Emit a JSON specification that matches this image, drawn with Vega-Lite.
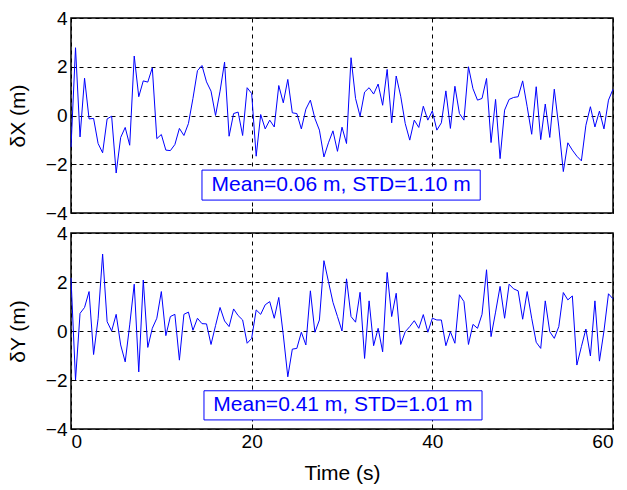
{
  "$schema": "https://vega.github.io/schema/vega-lite/v6.json",
  "padding": {"left": 6, "top": 8, "right": 2, "bottom": 5},
  "background": "white",
  "config": {
    "font": "Liberation Sans",
    "view": {"stroke": "black", "strokeWidth": 1.5},
    "axis": {
      "labelFont": "Liberation Sans", "labelFontSize": 19, "labelColor": "black",
      "titleFont": "Liberation Sans", "titleFontSize": 21, "titleFontWeight": "normal", "titleColor": "black",
      "domain": false, "grid": true, "gridColor": "black", "gridDash": [4, 4], "gridOpacity": 1, "gridWidth": 1,
      "tickColor": "black", "tickSize": -5, "tickWidth": 1
    }
  },
  "datasets": {
    "dx": [
      {"t":0,"v":-1.3},{"t":0.5,"v":2.78},{"t":1,"v":-0.88},{"t":1.5,"v":1.53},{"t":2,"v":-0.14},{"t":2.5,"v":-0.12},{"t":3,"v":-1.15},{"t":3.5,"v":-1.53},{"t":4,"v":-0.14},{"t":4.5,"v":-0.03},
      {"t":5,"v":-2.36},{"t":5.5,"v":-0.9},{"t":6,"v":-0.49},{"t":6.5,"v":-1.22},{"t":7,"v":2.44},{"t":7.5,"v":0.77},{"t":8,"v":1.42},{"t":8.5,"v":1.37},{"t":9,"v":1.96},{"t":9.5,"v":-0.95},
      {"t":10,"v":-0.78},{"t":10.5,"v":-1.42},{"t":11,"v":-1.44},{"t":11.5,"v":-1.19},{"t":12,"v":-0.53},{"t":12.5,"v":-0.82},{"t":13,"v":-0.33},{"t":13.5,"v":0.7},{"t":14,"v":1.84},{"t":14.5,"v":2.05},
      {"t":15,"v":1.38},{"t":15.5,"v":1.0},{"t":16,"v":0.0},{"t":16.5,"v":1.0},{"t":17,"v":2.19},{"t":17.5,"v":-0.85},{"t":18,"v":0.08},{"t":18.5,"v":0.14},{"t":19,"v":-0.82},{"t":19.5,"v":1.14},
      {"t":20,"v":0.9},{"t":20.5,"v":-1.67},{"t":21,"v":0.04},{"t":21.5,"v":-0.55},{"t":22,"v":-0.19},{"t":22.5,"v":-0.47},{"t":23,"v":1.23},{"t":23.5,"v":0.52},{"t":24,"v":1.48},{"t":24.5,"v":0.11},
      {"t":25,"v":0.08},{"t":25.5,"v":-0.55},{"t":26,"v":0.26},{"t":26.5,"v":0.63},{"t":27,"v":-0.12},{"t":27.5,"v":-0.6},{"t":28,"v":-1.7},{"t":28.5,"v":-1.12},{"t":29,"v":-0.63},{"t":29.5,"v":-1.47},
      {"t":30,"v":-0.48},{"t":30.5,"v":-1.15},{"t":31,"v":2.37},{"t":31.5,"v":0.7},{"t":32,"v":-0.03},{"t":32.5,"v":0.96},{"t":33,"v":1.14},{"t":33.5,"v":0.88},{"t":34,"v":1.29},{"t":34.5,"v":0.42},
      {"t":35,"v":1.89},{"t":35.5,"v":-0.3},{"t":36,"v":1.62},{"t":36.5,"v":0.79},{"t":37,"v":-0.33},{"t":37.5,"v":-1.01},{"t":38,"v":-0.19},{"t":38.5,"v":-0.49},{"t":39,"v":0.38},{"t":39.5,"v":-0.19},
      {"t":40,"v":0.19},{"t":40.5,"v":-0.6},{"t":41,"v":-0.3},{"t":41.5,"v":1.01},{"t":42,"v":-0.53},{"t":42.5,"v":1.2},{"t":43,"v":0.08},{"t":43.5,"v":-0.19},{"t":44,"v":2.0},{"t":44.5,"v":1.1},
      {"t":45,"v":0.63},{"t":45.5,"v":0.7},{"t":46,"v":1.52},{"t":46.5,"v":-1.11},{"t":47,"v":0.66},{"t":47.5,"v":-1.77},{"t":48,"v":0.22},{"t":48.5,"v":0.66},{"t":49,"v":0.74},{"t":49.5,"v":0.77},
      {"t":50,"v":1.42},{"t":50.5,"v":0.36},{"t":51,"v":-0.77},{"t":51.5,"v":1.18},{"t":52,"v":-0.99},{"t":52.5,"v":0.47},{"t":53,"v":-0.9},{"t":53.5,"v":1.08},{"t":54,"v":-0.47},{"t":54.5,"v":-2.3},
      {"t":55,"v":-1.12},{"t":55.5,"v":-1.42},{"t":56,"v":-1.67},{"t":56.5,"v":-1.86},{"t":57,"v":-0.4},{"t":57.5,"v":0.36},{"t":58,"v":-0.47},{"t":58.5,"v":0.18},{"t":59,"v":-0.55},{"t":59.5,"v":0.63},
      {"t":60,"v":1.08}
    ],
    "dy": [
      {"t":0,"v":2.16},{"t":0.5,"v":-2.0},{"t":1,"v":0.72},{"t":1.5,"v":0.96},{"t":2,"v":1.61},{"t":2.5,"v":-0.96},{"t":3,"v":0.5},{"t":3.5,"v":3.14},{"t":4,"v":0.38},{"t":4.5,"v":0.0},
      {"t":5,"v":0.68},{"t":5.5,"v":-0.57},{"t":6,"v":-1.26},{"t":6.5,"v":0.25},{"t":7,"v":1.91},{"t":7.5,"v":-1.67},{"t":8,"v":2.08},{"t":8.5,"v":-0.67},{"t":9,"v":0.11},{"t":9.5,"v":0.52},
      {"t":10,"v":1.61},{"t":10.5,"v":-0.19},{"t":11,"v":0.59},{"t":11.5,"v":0.68},{"t":12,"v":-1.19},{"t":12.5,"v":0.68},{"t":13,"v":0.77},{"t":13.5,"v":0.03},{"t":14,"v":0.52},{"t":14.5,"v":0.3},
      {"t":15,"v":0.29},{"t":15.5,"v":-0.55},{"t":16,"v":0.22},{"t":16.5,"v":0.96},{"t":17,"v":0.41},{"t":17.5,"v":0.18},{"t":18,"v":0.9},{"t":18.5,"v":0.63},{"t":19,"v":0.45},{"t":19.5,"v":-0.5},
      {"t":20,"v":-0.3},{"t":20.5,"v":0.86},{"t":21,"v":0.68},{"t":21.5,"v":1.07},{"t":22,"v":1.2},{"t":22.5,"v":0.52},{"t":23,"v":1.37},{"t":23.5,"v":-0.16},{"t":24,"v":-1.87},{"t":24.5,"v":-0.74},
      {"t":25,"v":-0.71},{"t":25.5,"v":-0.05},{"t":26,"v":-0.57},{"t":26.5,"v":1.64},{"t":27,"v":-0.05},{"t":27.5,"v":0.45},{"t":28,"v":2.87},{"t":28.5,"v":2.02},{"t":29,"v":1.17},{"t":29.5,"v":0.59},
      {"t":30,"v":0.0},{"t":30.5,"v":2.13},{"t":31,"v":0.59},{"t":31.5,"v":0.36},{"t":32,"v":1.58},{"t":32.5,"v":-1.12},{"t":33,"v":1.23},{"t":33.5,"v":-0.6},{"t":34,"v":0.11},{"t":34.5,"v":-0.85},
      {"t":35,"v":2.39},{"t":35.5,"v":0.59},{"t":36,"v":1.54},{"t":36.5,"v":-0.55},{"t":37,"v":-0.03},{"t":37.5,"v":0.18},{"t":38,"v":0.42},{"t":38.5,"v":0.11},{"t":39,"v":0.67},{"t":39.5,"v":-0.05},
      {"t":40,"v":0.52},{"t":40.5,"v":0.45},{"t":41,"v":0.45},{"t":41.5,"v":-0.6},{"t":42,"v":-0.03},{"t":42.5,"v":-0.5},{"t":43,"v":1.48},{"t":43.5,"v":1.2},{"t":44,"v":-0.55},{"t":44.5,"v":0.27},
      {"t":45,"v":0.11},{"t":45.5,"v":0.68},{"t":46,"v":2.5},{"t":46.5,"v":-0.23},{"t":47,"v":0.77},{"t":47.5,"v":1.82},{"t":48,"v":0.52},{"t":48.5,"v":1.91},{"t":49,"v":1.72},{"t":49.5,"v":1.64},
      {"t":50,"v":0.48},{"t":50.5,"v":1.61},{"t":51,"v":0.52},{"t":51.5,"v":-0.46},{"t":52,"v":-0.71},{"t":52.5,"v":1.23},{"t":53,"v":-0.03},{"t":53.5,"v":-0.3},{"t":54,"v":0.18},{"t":54.5,"v":1.57},
      {"t":55,"v":1.27},{"t":55.5,"v":1.43},{"t":56,"v":-1.39},{"t":56.5,"v":-0.64},{"t":57,"v":0.08},{"t":57.5,"v":-1.02},{"t":58,"v":1.23},{"t":58.5,"v":-1.23},{"t":59,"v":0.0},{"t":59.5,"v":1.52},
      {"t":60,"v":1.31}
    ]
  },
  "spacing": 20,
  "bounds": "flush",
  "vconcat": [
    {
      "width": 542,
      "height": 195,
      "layer": [
        {
          "data": {"name": "dx"},
          "mark": {"type": "line", "color": "#0000ff", "strokeWidth": 1},
          "encoding": {
            "x": {"field": "t", "type": "quantitative", "scale": {"domain": [0, 60], "nice": false},
                  "axis": {"values": [0, 20, 40, 60], "labels": false, "title": null}},
            "y": {"field": "v", "type": "quantitative", "scale": {"domain": [-4, 4], "nice": false},
                  "axis": {"values": [-4, -2, 0, 2, 4], "title": "δX (m)", "titlePadding": 17, "labelPadding": 9}}
          }
        },
        {
          "data": {"values": [{}]},
          "mark": {"type": "rect", "fill": "white", "stroke": "#0000ff", "strokeWidth": 1},
          "encoding": {"x": {"datum": 14.5}, "x2": {"datum": 45.3}, "y": {"datum": -2.24}, "y2": {"datum": -3.47}}
        },
        {
          "data": {"values": [{}]},
          "mark": {"type": "text", "color": "#0000ff", "fontSize": 21, "font": "Liberation Sans", "baseline": "middle", "text": "Mean=0.06 m, STD=1.10 m"},
          "encoding": {"x": {"datum": 29.9}, "y": {"datum": -2.85}}
        }
      ]
    },
    {
      "width": 542,
      "height": 196,
      "layer": [
        {
          "data": {"name": "dy"},
          "mark": {"type": "line", "color": "#0000ff", "strokeWidth": 1},
          "encoding": {
            "x": {"field": "t", "type": "quantitative", "scale": {"domain": [0, 60], "nice": false},
                  "axis": {"values": [0, 20, 40, 60], "title": "Time (s)", "labelPadding": 8, "titlePadding": 11}},
            "y": {"field": "v", "type": "quantitative", "scale": {"domain": [-4, 4], "nice": false},
                  "axis": {"values": [-4, -2, 0, 2, 4], "title": "δY (m)", "titlePadding": 17, "labelPadding": 9}}
          }
        },
        {
          "data": {"values": [{}]},
          "mark": {"type": "rect", "fill": "white", "stroke": "#0000ff", "strokeWidth": 1},
          "encoding": {"x": {"datum": 14.72}, "x2": {"datum": 45.5}, "y": {"datum": -2.44}, "y2": {"datum": -3.63}}
        },
        {
          "data": {"values": [{}]},
          "mark": {"type": "text", "color": "#0000ff", "fontSize": 21, "font": "Liberation Sans", "baseline": "middle", "text": "Mean=0.41 m, STD=1.01 m"},
          "encoding": {"x": {"datum": 30.1}, "y": {"datum": -3.03}}
        }
      ]
    }
  ]
}
